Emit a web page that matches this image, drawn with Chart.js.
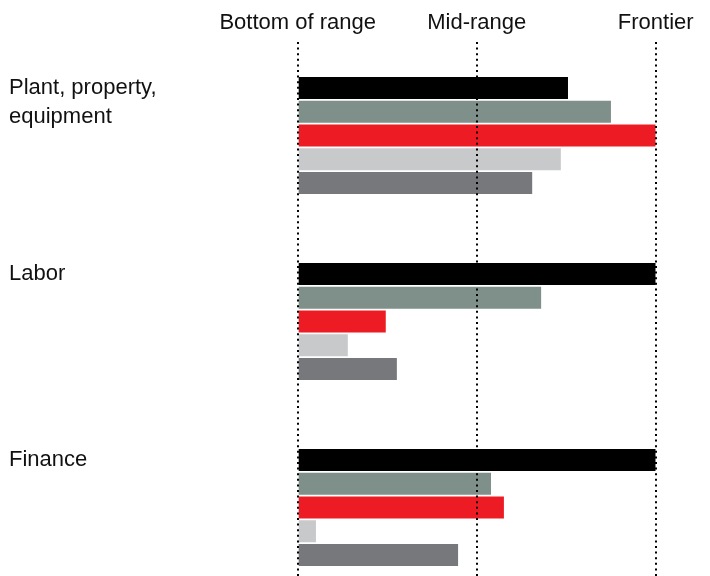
<!DOCTYPE html>
<html>
<head>
<meta charset="utf-8">
<script src="https://cdn.jsdelivr.net/npm/chart.js@4/dist/chart.umd.min.js"></script>
<style>
  body { margin: 0; background: #fff; }
  #wrap { width: 710px; height: 576px; position: relative; }
</style>
</head>
<body>
<div id="wrap"><canvas id="chart"></canvas></div>
<script>
// categories (two lines each so every label starts level with its first bar)
const categories = [["Plant, property,", "equipment"], ["Labor", ""], ["Finance", ""]];
const tickValues = [0, 50, 100];
const tickLabels = ["Bottom of range", "Mid-range", "Frontier"];

// one array per series (0 = bottom, 100 = frontier)
const seriesBlack = [75.5, 100, 100];
const seriesTeal = [87.5, 68, 54];
const seriesRed = [100, 24.6, 57.6];
const seriesLight = [73.5, 14, 5.1];
const seriesDark = [65.5, 27.7, 44.8];

const labelFont = "'Liberation Sans', Arial, sans-serif";

function toPoints(arr) {
    return arr.map((v, i) => ({ x: v, y: i }));
}

function makeSet(label, arr, color) {
    return {
        label: label,
        data: toPoints(arr),
        backgroundColor: color,
        borderWidth: 0,
        categoryPercentage: 0.638,
        barPercentage: 0.926
    };
}

function noPad(s) {
    s.paddingTop = 0;
    s.paddingBottom = 0;
    s.paddingLeft = 0;
    s.paddingRight = 0;
}

new Chart("chart", {
    type: "bar",
    data: {
        datasets: [
            makeSet("Series 1", seriesBlack, "#000000"),
            makeSet("Series 2", seriesTeal, "#7f8f8a"),
            makeSet("Series 3", seriesRed, "#ed1c24"),
            makeSet("Series 4", seriesLight, "#c8c9cb"),
            makeSet("Series 5", seriesDark, "#77787b")
        ]
    },
    options: {
        indexAxis: "y",
        responsive: true,
        maintainAspectRatio: false,
        animation: false,
        layout: { padding: { left: 9, right: 54.3, top: 0, bottom: 0 } },
        plugins: {
            legend: { display: false },
            tooltip: { enabled: false }
        },
        scales: {
            x: {
                type: "linear",
                position: "top",
                min: 0,
                max: 100,
                afterFit: (s) => { s.height = 42; noPad(s); },
                afterBuildTicks: (s) => { s.ticks = tickValues.map(v => ({ value: v })); },
                ticks: {
                    padding: 6,
                    color: "#111",
                    font: { family: labelFont, size: 22 },
                    callback: (v) => tickLabels[tickValues.indexOf(v)]
                },
                grid: {
                    z: 1,
                    drawTicks: false,
                    color: "#000",
                    lineWidth: 2
                },
                border: { display: false, dash: [2, 3.6] }
            },
            y: {
                type: "linear",
                offset: false,
                reverse: true,
                min: -0.5027,
                max: 2.368,
                afterFit: (s) => { s.width = 288.7; noPad(s); },
                afterBuildTicks: (s) => { s.ticks = categories.map((c, i) => ({ value: i })); },
                ticks: {
                    crossAlign: "far",
                    labelOffset: -33.5,
                    color: "#111",
                    font: { family: labelFont, size: 22, lineHeight: 1.32 },
                    callback: (v) => categories[v]
                },
                grid: { display: false },
                border: { display: false }
            }
        }
    }
});
</script>
</body>
</html>
